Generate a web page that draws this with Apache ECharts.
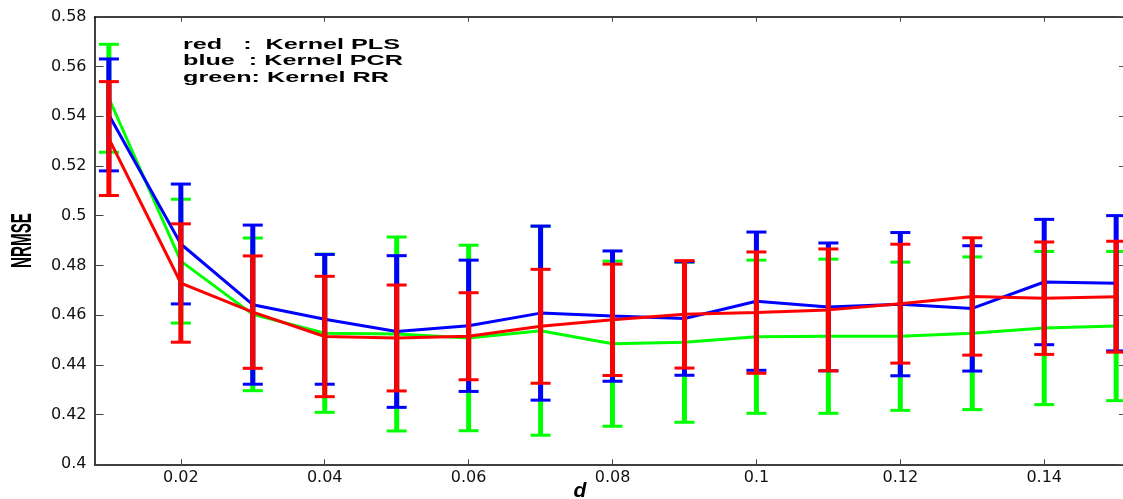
<!DOCTYPE html>
<html>
<head>
<meta charset="utf-8">
<script src="https://cdn.jsdelivr.net/npm/echarts@6/dist/echarts.min.js"></script>
<style>
html,body{margin:0;padding:0;background:#fff;}
#chart{width:1123px;height:499px;}
</style>
</head>
<body>
<div id="chart"></div>
<script>
const xValues = [0.01, 0.02, 0.03, 0.04, 0.05, 0.06, 0.07, 0.08, 0.09, 0.10, 0.11, 0.12, 0.13, 0.14, 0.15];
const xTicks = [0.02, 0.04, 0.06, 0.08, 0.10, 0.12, 0.14];

const redMean = [0.5310, 0.4729, 0.4612, 0.4514, 0.4508, 0.4515, 0.4555, 0.4581, 0.4603, 0.4610, 0.4621, 0.4646, 0.4675, 0.4668, 0.4674];
const redErr  = [0.0229, 0.0238, 0.0226, 0.0242, 0.0213, 0.0175, 0.0229, 0.0224, 0.0216, 0.0244, 0.0245, 0.0239, 0.0236, 0.0226, 0.0223];

const blueMean = [0.5405, 0.4886, 0.4642, 0.4583, 0.4534, 0.4557, 0.4608, 0.4596, 0.4586, 0.4656, 0.4633, 0.4644, 0.4627, 0.4733, 0.4728];
const blueErr  = [0.0225, 0.0241, 0.0320, 0.0261, 0.0305, 0.0264, 0.0350, 0.0262, 0.0228, 0.0278, 0.0257, 0.0288, 0.0252, 0.0252, 0.0272];

const greenMean = [0.5472, 0.4817, 0.4603, 0.4527, 0.4524, 0.4508, 0.4537, 0.4485, 0.4491, 0.4513, 0.4515, 0.4515, 0.4527, 0.4548, 0.4556];
const greenErr  = [0.0217, 0.0249, 0.0307, 0.0318, 0.0390, 0.0373, 0.0420, 0.0332, 0.0322, 0.0308, 0.0310, 0.0298, 0.0307, 0.0308, 0.0300];

const legendLines = ['red   :  Kernel PLS', 'blue  : Kernel PCR', 'green: Kernel RR'];
const yAxisTitle = 'NRMSE';
const xAxisTitle = 'd';

const chart = echarts.init(document.getElementById('chart'), null, {renderer: 'canvas'});

function errorBars(name, color, means, errs, z) {
  return {
    name: name + ' error',
    type: 'custom',
    z: z,
    clip: false,
    encode: {x: 0, y: [1, 2]},
    data: xValues.map((x, i) => [x, means[i] - errs[i], means[i] + errs[i]]),
    renderItem: function (params, api) {
      const x = api.value(0);
      const lo = api.coord([x, api.value(1)]);
      const hi = api.coord([x, api.value(2)]);
      const hw = 10;
      return {
        type: 'group',
        children: [
          {type: 'line', shape: {x1: lo[0], y1: lo[1], x2: hi[0], y2: hi[1]}, style: {stroke: color, lineWidth: 5}},
          {type: 'line', shape: {x1: lo[0] - hw, y1: lo[1], x2: lo[0] + hw, y2: lo[1]}, style: {stroke: color, lineWidth: 3}},
          {type: 'line', shape: {x1: hi[0] - hw, y1: hi[1], x2: hi[0] + hw, y2: hi[1]}, style: {stroke: color, lineWidth: 3}}
        ]
      };
    }
  };
}

function meanLine(name, color, means, z) {
  return {
    name: name,
    type: 'line',
    z: z,
    showSymbol: false,
    symbol: 'none',
    clip: false,
    lineStyle: {color: color, width: 3},
    data: xValues.map((x, i) => [x, means[i]])
  };
}

const xMin = 0.008, xMax = 0.15095;
const labelFont = {fontFamily: 'DejaVu Sans', fontSize: 16, color: '#111'};

const option = {
  animation: false,
  backgroundColor: '#fff',
  grid: {left: 94.5, top: 16.7, right: 0, bottom: 34.7, containLabel: false},
  xAxis: [
    {
      type: 'value', min: xMin, max: xMax, position: 'bottom',
      axisLine: {show: true, onZero: false, lineStyle: {color: '#000', width: 1.5}},
      axisTick: {show: true, inside: true, length: 5, customValues: xTicks, lineStyle: {color: '#444'}},
      axisLabel: Object.assign({show: true, margin: 6, customValues: xTicks,
        formatter: v => String(+v.toFixed(2))}, labelFont),
      splitLine: {show: false}
    },
    {
      type: 'value', min: xMin, max: xMax, position: 'top',
      axisLine: {show: true, onZero: false, lineStyle: {color: '#000', width: 1.5}},
      axisTick: {show: true, inside: true, length: 5, customValues: xTicks, lineStyle: {color: '#444'}},
      axisLabel: {show: false},
      splitLine: {show: false}
    }
  ],
  yAxis: [
    {
      type: 'value', min: 0.4, max: 0.58, interval: 0.02, position: 'left',
      axisLine: {show: true, onZero: false, lineStyle: {color: '#000', width: 1.5}},
      axisTick: {show: true, inside: true, length: 9, lineStyle: {color: '#444'}},
      axisLabel: Object.assign({show: true, margin: 8, formatter: v => String(+v.toFixed(2))}, labelFont),
      splitLine: {show: false}
    },
    {
      type: 'value', min: 0.4, max: 0.58, interval: 0.02, position: 'right',
      axisLine: {show: false},
      axisTick: {show: true, inside: true, length: 4, lineStyle: {color: '#555'}},
      axisLabel: {show: false},
      splitLine: {show: false}
    }
  ],
  graphic: [
    {
      type: 'text', x: 22.5, y: 240.5, rotation: Math.PI / 2, scaleX: 0.525,
      style: {text: yAxisTitle, font: 'bold 29px "Liberation Sans", Arial, sans-serif', fill: '#000',
        textAlign: 'center', textVerticalAlign: 'middle'}
    },
    {
      type: 'text', x: 580, y: 481,
      style: {text: xAxisTitle, font: 'italic bold 21px "Liberation Sans", Arial, sans-serif', fill: '#000',
        textAlign: 'center', textVerticalAlign: 'top'}
    }
  ].concat(legendLines.map((t, i) => ({
    type: 'text', x: 183, y: 45 + i * 16.3, scaleX: 1.68,
    style: {text: t, font: 'bold 15px "Liberation Sans", Arial, sans-serif', fill: '#000',
      textAlign: 'left', textVerticalAlign: 'middle'}
  }))),
  series: [
    errorBars('Kernel RR', '#00ff00', greenMean, greenErr, 1),
    meanLine('Kernel RR', '#00ff00', greenMean, 2),
    errorBars('Kernel PCR', '#0000ff', blueMean, blueErr, 3),
    meanLine('Kernel PCR', '#0000ff', blueMean, 4),
    errorBars('Kernel PLS', '#ff0000', redMean, redErr, 5),
    meanLine('Kernel PLS', '#ff0000', redMean, 6)
  ]
};

chart.setOption(option);
</script>
</body>
</html>
